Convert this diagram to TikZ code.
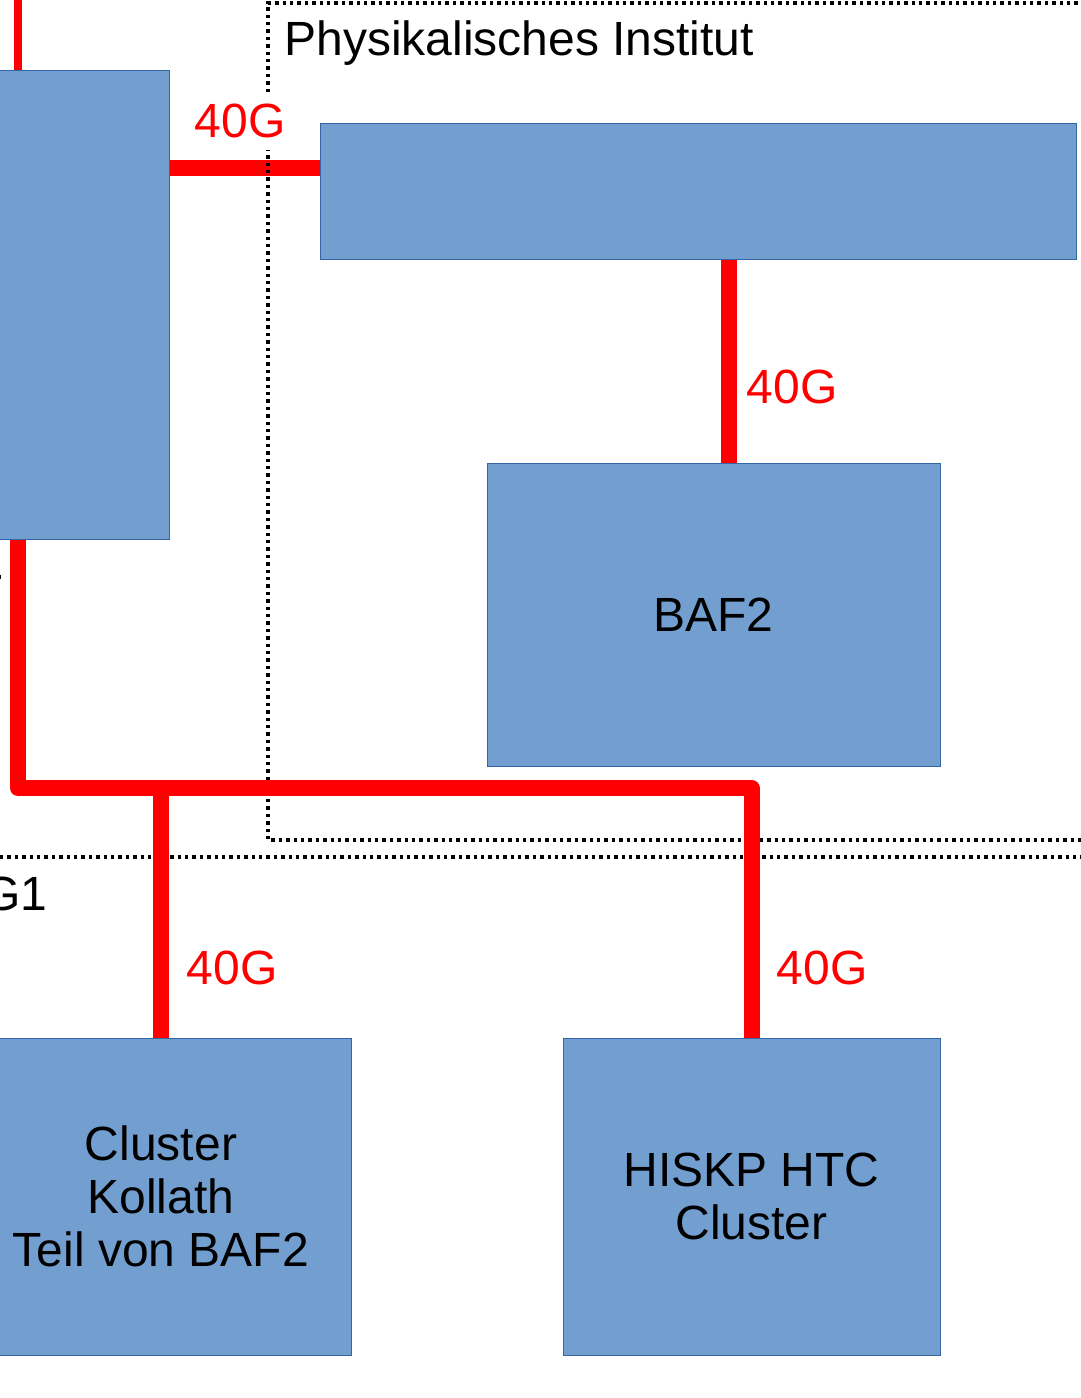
\documentclass[tikz,border=0pt]{standalone}
\usepackage{fontspec}
\setmainfont{Liberation Sans}
\usepackage{xcolor}
\usepackage{tikz}
\usetikzlibrary{positioning,calc}
\definecolor{boxfill}{HTML}{729FCF}
\definecolor{boxline}{HTML}{3465A4}
\definecolor{linkred}{HTML}{FF0000}
\tikzset{
  netbox/.style={draw=boxline, line width=0.5pt, fill=boxfill, align=center, inner sep=0pt},
  link/.style={draw=linkred, line width=8pt, line join=round},
  thinlink/.style={draw=linkred, line width=4pt},
  speed/.style={text=linkred, inner sep=0pt},
  zone/.style={draw=black, line width=1.7pt, dash pattern=on 1.7pt off 2pt},
  zonelabel/.style={inner sep=0pt}
}

\begin{document}
\begin{tikzpicture}[x=0.5pt, y=-0.5pt, font=\fontsize{24pt}{26.5pt}\selectfont]
  \useasboundingbox (0,0) rectangle (1081,1398);
  \clip (0,0) rectangle (1081,1398);

  \node[netbox, minimum width=154.5pt, minimum height=234.5pt] (lan) at (14.5,304.5) {};
  \node[netbox, minimum width=378pt, minimum height=68pt] (switch) at (698,191) {};
  \node[netbox, minimum width=226.5pt, minimum height=151.5pt] (baf) at (713.5,614.5) {BAF2};
  \node[netbox, minimum width=190pt, minimum height=158.5pt] (kollath) at (161,1196.5) {Cluster\\Kollath\\Teil von BAF2};
  \node[netbox, minimum width=188.5pt, minimum height=158.5pt] (hiskp) at (751.5,1196.5) {HISKP HTC\\Cluster};

  \coordinate (wan) at (18,0);
  \coordinate (uplink) at (0,168);
  \coordinate (drop) at (729,0);
  \coordinate (bend) at (18,788);

  % uplink to the institute switch
  \draw[link] (lan.east |- uplink) -- (switch.west |- uplink);

  % zones
  \draw[zone] (1100,3) -- (268,3) -- (268,840) -- (1100,840);
  \draw[zone] (0,857) -- (1100,857);
  \draw[zone] (-10,577) -- (4,577);
  \node[zonelabel, anchor=base west] (inst) at (284,55) {Physikalisches Institut};
  \node[zonelabel, anchor=base east] (g1) at (48,910) {G1};

  \draw[thinlink] (wan) -- (lan.north -| wan);
  \draw[link] (switch.south -| drop) -- (baf.north -| drop);
  \draw[link] (lan.south -| bend) -- (bend) -| (hiskp.north);
  \draw[link] (kollath.north |- bend) -- (kollath.north);

  \node[speed, fill=white, inner sep=6pt] (s1) at (240,121) {40G};
  \node[speed] (s2) at (792,387) {40G};
  \node[speed] (s3) at (232,968) {40G};
  \node[speed] (s4) at (822,968) {40G};
\end{tikzpicture}
\end{document}
